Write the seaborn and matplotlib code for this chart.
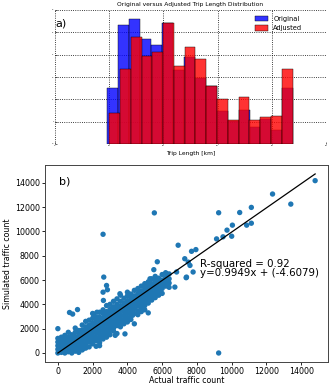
import numpy as np
import matplotlib
matplotlib.use("Agg")
import matplotlib.pyplot as plt
import seaborn as sns

# ---------------- data: panel a (trip length histogram) ----------------
orig_edges = [9.63, 11.65, 13.67, 15.69, 17.71, 19.73, 21.75, 23.77, 25.79,
              27.81, 29.83, 31.85, 33.87, 35.89, 37.91, 39.93, 41.95, 43.97]
orig_counts = [2.49, 5.33, 5.60, 4.69, 4.43, 5.40, 3.30, 3.88, 2.94,
               2.60, 1.48, 1.03, 1.52, 0.78, 1.12, 0.63, 2.49]
adj_edges = [10.0, 11.99, 13.98, 15.97, 17.96, 19.95, 21.94, 23.93, 25.92,
             27.91, 29.90, 31.89, 33.88, 35.87, 37.86, 39.85, 41.84, 43.83]
adj_counts = [1.40, 3.34, 4.81, 3.96, 4.13, 5.43, 3.49, 4.36, 3.79,
              2.60, 2.00, 1.07, 2.09, 1.07, 1.19, 1.27, 3.36]

# ---------------- data: panel b (traffic counts) ----------------
# dense cloud, read column by column (actual count -> simulated counts)
cloud_col_actual = [0, 200, 400, 600, 800, 1000, 1200, 1400, 1600, 1800,
                    2000, 2200, 2400, 2600, 2800, 3000, 3200, 3400, 3600,
                    3800, 4000, 4200, 4400, 4600, 4800, 5000, 5200, 5400,
                    5600, 5800, 6000, 6200, 6400]
cloud_col_sim = [
    [0, 300, 600, 900, 1200],
    [50, 350, 650, 950, 1300],
    [0, 250, 550, 850, 1150, 1450],
    [100, 400, 700, 1000, 1300, 1700],
    [0, 300, 600, 900, 1200, 1500],
    [150, 450, 750, 1050, 1350, 1700, 2050],
    [50, 400, 700, 1000, 1300, 1650, 1850],
    [250, 600, 900, 1250, 1550, 1900, 2300],
    [400, 750, 1100, 1450, 1800, 2150, 2600],
    [500, 900, 1250, 1600, 1950, 2300, 2700],
    [750, 1050, 1400, 1750, 2100, 2450, 2850, 3250],
    [550, 1000, 1300, 1650, 2000, 2350, 2700, 2950],
    [850, 1200, 1550, 1900, 2250, 2600, 2950, 3350],
    [1150, 1450, 1800, 2150, 2500, 2850, 3250, 3550],
    [1300, 1650, 2000, 2350, 2700, 3050, 3400, 3900],
    [1500, 1850, 2200, 2550, 2900, 3250, 3600, 4000],
    [1800, 2050, 2400, 2750, 3100, 3450, 3800, 4250],
    [1600, 2250, 2600, 2950, 3300, 3650, 4000, 4450],
    [2150, 2450, 2800, 3150, 3500, 3850, 4250, 4750],
    [2400, 2700, 3050, 3400, 3750, 4100, 4500],
    [2550, 2900, 3250, 3600, 3950, 4300, 4700, 5000],
    [2750, 3100, 3450, 3800, 4150, 4500, 4850],
    [2400, 3250, 3650, 4000, 4350, 4700, 5150],
    [3150, 3450, 3850, 4200, 4550, 4900, 5300],
    [3400, 3700, 4050, 4400, 4750, 5100, 5500],
    [3550, 3900, 4250, 4600, 4950, 5300, 5700],
    [3300, 4100, 4450, 4800, 5150, 5500, 5850],
    [4350, 4650, 5000, 5350, 5700, 6100],
    [4550, 4900, 5250, 5600, 5950, 6300],
    [4750, 5100, 5450, 5800, 6150],
    [4900, 5300, 5650, 6000, 6450],
    [5500, 5850, 6200, 6600],
    [5400, 5750, 6100, 6500],
]
# scattered points outside the cloud
outlier_actual = [
    0, 670, 1130, 850, 2050, 2250, 1450, 2400, 3300, 3860, 4300, 5200,
    2600, 2620, 2800, 2850, 3570, 5300, 5520, 5720, 6250, 6830, 6730, 6060,
    7400, 7780, 7380, 7500, 7300, 7600, 6920, 7690, 7940, 9130, 9500, 10000,
    9730, 10040, 10860, 11130, 9250, 10460, 11130, 12350, 13400, 14800,
    5550, 2600, 2640, 9250,
]
outlier_sim = [
    2000, 3330, 3570, 3200, 3200, 3350, 350, 600, 1450, 1570, 3100, 4320,
    5000, 4320, 5550, 5200, 4870, 6100, 6850, 7500, 6520, 6660, 5420, 5560,
    6240, 6660, 6190, 7470, 7750, 7200, 8860, 8360, 8500, 9380, 9550, 9600,
    10100, 10510, 10510, 10670, 11530, 11550, 11970, 13070, 12240, 14170,
    11520, 9760, 6240, 0,
]
slope = 0.9949
intercept = -4.6079
r_squared = 0.92

# ---------------- figure ----------------
W, H = 332, 384
fig = plt.figure(figsize=(W / 100, H / 100), dpi=100)

# panel a
ax1 = fig.add_axes([55 / W, 1 - 144 / H, 271 / W, 134 / H])
orig_centers = [(a + b) / 2 for a, b in zip(orig_edges[:-1], orig_edges[1:])]
adj_centers = [(a + b) / 2 for a, b in zip(adj_edges[:-1], adj_edges[1:])]
sns.histplot(x=orig_centers, weights=orig_counts, bins=orig_edges, ax=ax1,
             color="#0000ff", alpha=0.8, edgecolor="#000000", linewidth=0.3,
             label="Original")
sns.histplot(x=adj_centers, weights=adj_counts, bins=adj_edges, ax=ax1,
             color="#ff0000", alpha=0.8, edgecolor="#000000", linewidth=0.3,
             label="Adjusted")
ax1.set_xlim(0, 50)
ax1.set_ylim(0, 6)
ax1.set_xticks(np.arange(0, 51, 10))
ax1.set_yticks(np.arange(0, 7, 1))
ax1.set_axisbelow(True)
ax1.grid(True, color="black", linestyle=":", linewidth=0.6)
for s in ax1.spines.values():
    s.set_visible(False)
ax1.tick_params(labelsize=1.5, length=1.5, width=0.4, direction="in", pad=1)
ax1.set_ylabel("")
ax1.set_xlabel("Trip Length [km]", fontsize=4.3, labelpad=3)
ax1.set_title("Original versus Adjusted Trip Length Distribution",
              fontsize=4.3, pad=3)
ax1.text(0.0, 0.90, "a)", transform=ax1.transAxes, fontsize=8, va="center",
         ha="left")
ax1.legend(loc="upper right", frameon=False, fontsize=4.8,
           bbox_to_anchor=(0.935, 1.0), handlelength=2.0, handleheight=0.8)

# panel b
ax2 = fig.add_axes([45 / W, 22 / H, 283 / W, 197 / H])
cloud_actual = [xv for xv, col in zip(cloud_col_actual, cloud_col_sim)
                for _ in col]
cloud_sim = [yv for col in cloud_col_sim for yv in col]
actual = np.array(cloud_actual + outlier_actual, dtype=float)
simulated = np.array(cloud_sim + outlier_sim, dtype=float)
sns.scatterplot(x=actual, y=simulated, ax=ax2, s=15, color="#1f77b4",
                edgecolor="none", linewidth=0)
x_fit = np.array([actual.min(), actual.max()])
sns.lineplot(x=x_fit, y=slope * x_fit + intercept, ax=ax2, color="black",
             linewidth=0.9)
ax2.set_xticks(np.arange(0, 14001, 2000))
ax2.set_yticks(np.arange(0, 14001, 2000))
ax2.tick_params(labelsize=5.7, length=2.5, width=0.6, pad=1.2)
for s in ax2.spines.values():
    s.set_linewidth(0.7)
    s.set_color("#444444")
ax2.set_xlabel("Actual traffic count", fontsize=5.7, labelpad=0)
ax2.set_ylabel("Simulated traffic count", fontsize=5.7, labelpad=2)
ax2.text(0.05, 0.915, "b)", transform=ax2.transAxes, fontsize=8,
         va="center", ha="left")
ax2.text(8150, 7066, f"R-squared = {r_squared:.2f}", fontsize=7.4,
         va="baseline")
ax2.text(8150, 6298, f"y={slope:.4f}x + ({intercept:.4f})", fontsize=7.4,
         va="baseline")

fig.savefig("out.png", dpi=100)
